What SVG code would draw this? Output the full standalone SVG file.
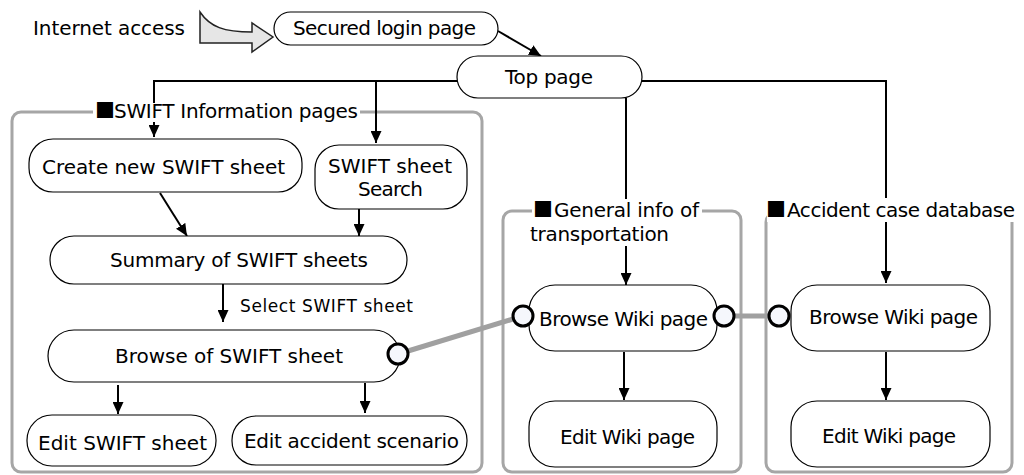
<svg xmlns="http://www.w3.org/2000/svg" width="1024" height="475" viewBox="0 0 1024 475">
<style>
text{font-family:"DejaVu Sans","Liberation Sans",sans-serif;font-size:20px;fill:#000}
.sq{font-family:"Noto Sans CJK JP","DejaVu Sans",sans-serif}
.node{fill:#fff;stroke:#000;stroke-width:1.2}
.grp{fill:none;stroke:#a6a6a6;stroke-width:3}
.lblbg{fill:#fff}
.conn{fill:none;stroke:#000;stroke-width:2}
.gconn{fill:none;stroke:#a0a0a0;stroke-width:5}
.port{fill:#f5f7fc;stroke:#000;stroke-width:3}
</style>
<defs>
<marker id="ah" markerUnits="userSpaceOnUse" markerWidth="12" markerHeight="11" refX="12" refY="5.5" orient="auto">
<path d="M0,0 L12,5.5 L0,11 Z" fill="#000"/>
</marker>
</defs>
<rect width="1024" height="475" fill="#fff"/>

<g id="groups">
<rect class="grp" x="12" y="112" width="470" height="360" rx="9"/>
<rect class="grp" x="503" y="211" width="238" height="261" rx="9"/>
<rect class="grp" x="766" y="213" width="246" height="259" rx="9"/>
</g>

<g id="connectors">
<line class="conn" x1="498" y1="31" x2="541" y2="56" marker-end="url(#ah)"/>
<polyline class="conn" points="457,81 154,81 154,137" marker-end="url(#ah)"/>
<line class="conn" x1="376" y1="81" x2="376" y2="143" marker-end="url(#ah)"/>
<polyline class="conn" points="642,81 886,81 886,283" marker-end="url(#ah)"/>
<line class="conn" x1="626" y1="98" x2="626" y2="285" marker-end="url(#ah)"/>
<line class="conn" x1="160" y1="193" x2="187" y2="236" marker-end="url(#ah)"/>
<line class="conn" x1="359" y1="209" x2="359" y2="236" marker-end="url(#ah)"/>
<line class="conn" x1="223" y1="284" x2="223" y2="322" marker-end="url(#ah)"/>
<line class="conn" x1="118" y1="385" x2="118" y2="414" marker-end="url(#ah)"/>
<line class="conn" x1="365" y1="383" x2="365" y2="413" marker-end="url(#ah)"/>
<line class="conn" x1="624" y1="352" x2="624" y2="400" marker-end="url(#ah)"/>
<line class="conn" x1="886" y1="352" x2="886" y2="400" marker-end="url(#ah)"/>
<line class="gconn" x1="408" y1="351" x2="513" y2="319"/>
<line class="gconn" x1="734" y1="316" x2="769" y2="316"/>
</g>

<g id="group-labels">
<rect class="lblbg" x="93" y="103" width="267" height="19"/>
<text x="95" y="118"><tspan class="sq">■</tspan><tspan x="114" textLength="244">SWIFT Information pages</tspan></text>
<rect class="lblbg" x="532" y="199" width="170" height="47"/>
<text x="533" y="217"><tspan class="sq">■</tspan><tspan x="554" textLength="145">General info of</tspan></text>
<text x="530" y="241" textLength="139">transportation</text>
<rect class="lblbg" x="767" y="198" width="252" height="24"/>
<text x="766" y="217"><tspan class="sq">■</tspan><tspan x="787" textLength="228">Accident case database</tspan></text>
</g>

<g id="internet-access">
<text x="33" y="35" textLength="152">Internet access</text>
<path d="M200,12 C210,27 224,32 252,32 L252,23 L273,37 L252,52 L252,43 L200,43 Z" fill="#e6e6e6" stroke="#222" stroke-width="1.5"/>
</g>

<g id="secured-login">
<rect class="node" x="274" y="12" width="224" height="33" rx="16.5"/>
<text x="293" y="35" textLength="183">Secured login page</text>
</g>

<g id="top-page">
<rect class="node" x="457" y="56" width="185" height="42" rx="21"/>
<text x="505" y="84" textLength="88">Top page</text>
</g>

<g id="create-swift">
<rect class="node" x="29" y="139" width="273" height="53" rx="24"/>
<text x="42" y="174" textLength="243">Create new SWIFT sheet</text>
</g>

<g id="swift-search">
<rect class="node" x="315" y="145" width="152" height="64" rx="24"/>
<text x="328" y="173" textLength="124">SWIFT sheet</text>
<text x="358" y="196" textLength="65">Search</text>
</g>

<g id="summary">
<rect class="node" x="50" y="236" width="357" height="48" rx="24"/>
<text x="110" y="267" textLength="258">Summary of SWIFT sheets</text>
</g>

<text x="240" y="312" style="font-size:17px" textLength="173">Select SWIFT sheet</text>

<g id="browse-swift">
<rect class="node" x="48" y="330" width="352" height="52" rx="26"/>
<text x="115" y="363" textLength="228">Browse of SWIFT sheet</text>
<circle class="port" cx="398" cy="354" r="10"/>
</g>

<g id="edit-swift">
<rect class="node" x="27" y="415" width="189" height="51" rx="25"/>
<text x="38" y="450" textLength="169">Edit SWIFT sheet</text>
</g>

<g id="edit-scenario">
<rect class="node" x="232" y="416" width="235" height="49" rx="24"/>
<text x="244" y="448" textLength="215">Edit accident scenario</text>
</g>

<g id="browse-wiki-general">
<rect class="node" x="529" y="285" width="188" height="66" rx="26"/>
<text x="539" y="326" textLength="169">Browse Wiki page</text>
<circle class="port" cx="523" cy="316" r="10"/>
<circle class="port" cx="724" cy="316" r="10"/>
</g>

<g id="edit-wiki-general">
<rect class="node" x="529" y="401" width="188" height="66" rx="26"/>
<text x="560" y="444" textLength="135">Edit Wiki page</text>
</g>

<g id="browse-wiki-accident">
<rect class="node" x="791" y="285" width="199" height="66" rx="26"/>
<text x="809" y="324" textLength="169">Browse Wiki page</text>
<circle class="port" cx="779" cy="316" r="10"/>
</g>

<g id="edit-wiki-accident">
<rect class="node" x="791" y="401" width="199" height="66" rx="26"/>
<text x="822" y="443" textLength="134">Edit Wiki page</text>
</g>
</svg>
